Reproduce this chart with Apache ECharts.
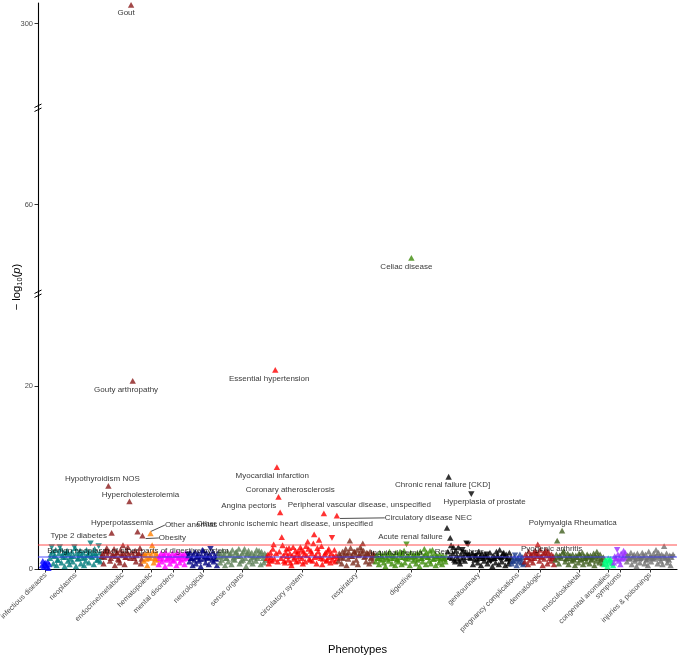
<!DOCTYPE html>
<html><head><meta charset="utf-8">
<script src="https://cdn.jsdelivr.net/npm/echarts@6/dist/echarts.min.js"></script>
<style>html,body{margin:0;padding:0;background:#fff}#c{width:685px;height:662px}</style>
</head><body><div id="c"></div>
<script>
// ---------- DATA ----------
const categories = ['infectious diseases','neoplasms','endocrine/metabolic','hematopoietic','mental disorders','neurological','sense organs','circulatory system','respiratory','digestive','genitourinary','pregnancy complications','dermatologic','musculoskeletal','congenital anomalies','symptoms','injuries & poisonings'];

// -log10(p) per phenotype in phecode order; negative sign = effect downward (drawn as down triangle)
const infectiousP = [0.4,0.9,0.2,0.6,0.7,0.4,0.3,0.8,0.1,0.5];
const neoplasmsP = [1.2,1.6,-2.4,1.9,0.6,1.4,1.5,2.1,0.4,1.0,1.0,1.7,-2.4,2.2,0.7,1.5,1.3,1.8,0.3,1.3,1.8,2.0,0.9,1.6,0.5,1.1,1.4,1.9,0.8,1.4,-2.4,2.3,0.3,1.7,1.1,1.2,1.6,2.0,0.6,1.5,1.2,1.8,0.4,1.3,0.9,2.1,1.5,1.6,0.7,1.9,-2.8,1.4,1.3,1.7,0.5,2.2,1.7,1.5,1.0,1.0,-2.5,1.8,0.8,1.3];
const endocrineP = [1.4,1.7,0.6,1.3,1.9,2.0,2.3,1.5,9.1,1.9,0.9,1.2,3.95,1.6,1.5,2.2,0.4,1.4,1.8,1.8,1.1,1.0,0.7,2.1,1.6,1.5,2.6,1.7,0.5,1.3,1.3,1.9,2.4,1.6,7.4,1.2,302,1.8,20.6,1.4,1.2,2.0,0.8,1.5,4.1,1.7,1.7,2.3,0.6,1.1,3.65,1.6];
const hematoP = [0.9,1.6,1.5,1.1,0.4,1.8,1.2,1.3,3.9,1.5,2.6,1.9,0.7,1.2,1.1,1.7,1.4,1.0];
const mentalP = [0.5,1.4,1.2,1.7,0.8,1.1,1.6,1.5,0.3,1.8,1.0,1.2,1.4,1.6,0.6,1.3,1.1,1.7,0.9,1.0,1.5,1.5,0.4,1.8,1.3,1.2,0.7,1.6,1.0,1.4,1.6,1.1,0.5,1.7,1.2,1.3];
const neuroP = [-1.6,1.5,0.8,1.8,1.2,1.2,0.4,1.6,1.0,1.9,0.6,1.3,1.4,1.7,0.9,1.1,0.3,1.5,2.1,2.0,1.1,1.4,0.7,1.8,1.3,1.2,0.5,1.6,-2.2,1.3,1.0,1.9,0.8,1.5,1.2,1.1,0.4,1.7];
const senseP = [1.3,1.8,0.7,1.4,1.0,2.0,1.5,1.6,0.4,1.2,1.2,1.9,0.8,1.5,1.6,1.7,0.5,2.1,1.1,1.3,1.0,1.8,1.9,1.5,1.4,2.2,0.6,1.4,0.9,1.7,1.0,1.9,2.2,1.2,0.3,1.6,1.7,2.0,0.8,1.5,1.1,1.8,0.6,1.3,1.4,1.7,0.9,2.1,1.2,1.4,2.0,1.6,0.5,1.9,1.5,1.2,0.7,1.7,1.0,1.5];
const circP = [1.2,1.6,0.6,1.0,1.8,1.3,0.9,2.2,2.7,1.1,21.8,1.7,11.15,0.8,7.9,1.9,6.2,1.2,3.5,2.6,1.5,0.9,0.7,1.8,2.2,1.4,1.0,2.3,1.7,0.7,0.4,1.5,2.4,1.1,1.3,2.0,0.8,1.6,1.9,0.9,1.4,2.4,2.1,1.2,0.6,1.9,1.6,0.8,2.5,1.5,3.0,2.2,1.1,1.0,2.0,1.7,0.9,2.8,3.8,1.3,1.5,0.6,2.3,1.9,3.2,1.4,1.2,2.5,0.5,1.1,6.1,1.6,1.8,0.9,1.0,2.0,2.2,1.3,0.7,1.7,-3.4,1.0,1.4,2.1,0.8,1.5,5.85,1.2];
const respP = [0.9,1.7,1.5,1.3,0.6,1.9,1.2,1.5,1.8,2.2,0.4,1.6,1.1,1.8,3.1,2.3,1.4,1.4,0.7,1.9,1.9,1.6,1.0,2.1,0.5,1.5,1.6,2.4,2.1,1.7,2.8,2.0,1.3,1.4,0.8,1.8,1.7,1.6,0.6,1.9,1.2,1.3,0.9,1.7,1.5,1.5];
const digestP = [0.8,1.5,1.2,1.2,0.5,1.8,1.0,1.4,1.4,1.1,0.7,1.7,0.3,1.3,1.1,1.6,0.9,1.9,1.5,1.2,0.6,1.5,1.2,1.4,0.4,1.8,1.0,1.1,0.8,1.6,1.9,1.3,0.5,1.7,1.3,2.0,0.7,1.2,-2.7,1.5,1.1,1.4,0.4,1.8,54.1,1.3,0.9,1.6,1.4,1.1,0.6,1.7,1.0,1.5,0.3,1.9,1.2,1.2,0.8,1.4,2.2,1.6,0.5,1.8,1.3,1.3,0.9,2.0,0.6,1.5,2.1,1.1,1.1,1.7,0.4,1.4,1.4,1.2,0.7,1.6,1.0,1.3,0.5,1.5,1.2,1.1,0.8,1.4];
const genitoP = [4.5,1.9,10.1,1.3,3.4,2.6,1.2,1.7,2.4,1.0,0.8,2.0,1.5,1.2,2.4,0.9,0.6,1.6,1.1,-2.1,-1.8,1.3,0.9,1.7,-2.8,-1.5,-2.7,1.6,1.3,1.2,-8.2,1.8,0.5,-1.3,1.0,1.5,-1.4,1.1,0.7,1.9,1.2,1.4,0.4,1.7,-1.1,1.2,0.9,1.6,1.4,-1.6,0.6,1.3,1.0,1.8,-0.8,1.1,0.3,1.5,1.2,1.2,0.7,1.9,1.5,1.4,0.5,2.1,-1.0,1.3,0.8,1.7,1.8,1.4,0.4,1.6,1.1,1.2,0.6,1.8,0.9,1.3];
const pregP = [0.6,0.9,0.9,1.3,-1.5,1.0,0.4,1.2,1.2,0.8,1.6,1.1,0.7,1.3,0.5,0.7];
const dermP = [0.8,1.6,1.3,1.3,0.5,1.9,1.0,1.5,1.6,1.2,0.7,1.8,1.2,2.0,1.7,1.4,2.7,1.6,0.9,2.1,1.4,1.3,0.4,1.7,1.1,1.8,2.1,1.5,0.6,1.9,1.5,1.2,0.9,1.6,1.2,1.4,0.5,1.1];
const muscP = [1.0,1.6,3.1,1.3,0.6,1.5,1.4,1.2,4.2,1.8,2.0,1.5,0.8,1.1,1.2,1.7,0.5,1.4,1.5,1.2,0.9,1.6,1.1,1.0,0.4,1.5,1.3,1.3,0.7,1.7,1.6,1.1,1.0,1.8,0.5,1.4,1.2,1.2,0.8,1.6,1.4,1.3,0.6,1.5,1.0,1.1,1.3,1.7,0.4,1.4,0.9,1.9,1.5,1.2,0.7,1.6,1.1,1.0,0.6,1.3];
const congenP = [0.5,0.9,1.0,0.6,0.3,1.2,0.8,1.0,1.1,0.7,0.6,0.4];
const sympP = [0.7,1.4,1.2,1.1,-2.1,1.6,0.9,1.2,0.5,1.7,1.1,1.3,2.0,1.5,1.8,1.2];
const injP = [0.8,1.5,-1.3,1.2,1.1,1.8,0.5,1.3,1.4,1.6,0.9,1.1,0.3,1.7,1.2,1.4,0.7,1.2,-1.0,1.8,1.5,1.3,0.6,1.6,1.0,1.1,0.4,1.9,1.3,1.4,0.8,1.2,-1.2,1.7,1.1,1.3,2.1,1.5,0.6,1.8,1.4,1.2,0.9,1.6,0.5,1.4,2.5,1.3,1.2,1.7,0.7,1.1,1.0,1.5,0.4,1.3,-1.3,1.6];
const categoryValues = [infectiousP,neoplasmsP,endocrineP,hematoP,mentalP,neuroP,senseP,circP,respP,digestP,genitoP,pregP,dermP,muscP,congenP,sympP,injP];

// [label, category index, position within category]
const annotations = [
  ['Gout',2,36],['Gouty arthropathy',2,38],['Hypothyroidism NOS',2,8],['Hypercholesterolemia',2,34],
  ['Type 2 diabetes',2,12],['Hyperpotassemia',2,44],['Obesity',2,50],['Other anemias',3,8],
  ['Benign neoplasm of other parts of digestive system',1,50],
  ['Essential hypertension',7,10],['Myocardial infarction',7,12],['Coronary atherosclerosis',7,14],
  ['Angina pectoris',7,16],['Other chronic ischemic heart disease, unspecified',7,18],
  ['Peripheral vascular disease, unspecified',7,70],['Circulatory disease NEC',7,86],
  ['Celiac disease',9,44],['Inguinal hernia',9,38],['Chronic renal failure [CKD]',10,2],
  ['Acute renal failure',10,0],['Renal dialysis',10,14],['Hyperplasia of prostate',10,30],
  ['Polymyalgia Rheumatica',13,8],['Pyogenic arthritis',13,2]
];
const significanceLines = [2.63, 1.3];
const yTicksBottom = [0,20], yTicksMiddle = [60], yTicksTop = [300];
const segBottom = [0,30], segMiddle = [50,70.7], segTop = [291,302.2];

// ---------- STYLE ----------
const catColors = ['#0000FF','#007A7A','#8B1A1A','#FF7F00','#FF00FF','#000080','#5E8057','#FF0000','#7B2D1E','#3D8B0A','#000000','#1F3D8A','#A31414','#405E1E','#00FF80','#9B30FF','#707070'];
const labelOffsets = {
  'Gout':[-5,8],'Gouty arthropathy':[-6.6,8.5],'Hypothyroidism NOS':[-6,-7],'Hypercholesterolemia':[11,-7],
  'Type 2 diabetes':[-33,3],'Hyperpotassemia':[-15.5,-8.4],'Obesity':[30,2.3],'Other anemias':[40.6,-8.3],
  'Benign neoplasm of other parts of digestive system':[47.4,7],
  'Essential hypertension':[-6,8.7],'Myocardial infarction':[-4.6,8.7],'Coronary atherosclerosis':[11.7,-7],
  'Angina pectoris':[-31.4,-6.6],'Other chronic ischemic heart disease, unspecified':[3,-13],
  'Peripheral vascular disease, unspecified':[35.5,-8],'Circulatory disease NEC':[91.5,2.3],
  'Celiac disease':[-5,9],'Inguinal hernia':[-10,8],'Chronic renal failure [CKD]':[-6,8.3],
  'Acute renal failure':[-36.5,8.7],'Renal dialysis':[1,5],'Hyperplasia of prostate':[13.3,7.3],
  'Polymyalgia Rheumatica':[10.7,-7.4],'Pyogenic arthritis':[-5.5,8]
};
const withLine = ['Obesity','Other anemias','Circulatory disease NEC'];
const FONT = '"Liberation Sans", Arial, Helvetica, sans-serif';
const G = {left:38, width:639};
const gridTop = {top:3, height:105}, gridMid = {top:108, height:187}, gridBot = {top:295, height:274};
const X_PAD = 4.9;

// ---------- BUILD ----------
const annMap = {};
annotations.forEach(a => { annMap[a[1]+'_'+a[2]] = a[0]; });
let g = 0; const centers = [];
const seriesData = [[],[],[]]; // top, middle, bottom
const labelInfo = [{},{},{}];
categoryValues.forEach((arr, ci) => {
  const start = g;
  arr.forEach((v, li) => {
    const y = Math.abs(v);
    const k = y > segMiddle[1] ? 0 : (y > segBottom[1] ? 1 : 2);
    const item = {value:[g, y], symbolRotate: v < 0 ? 180 : 0, itemStyle:{color:catColors[ci]}};
    const name = annMap[ci+'_'+li];
    if (name) {
      item.name = name;
      item.label = {show:true, formatter:name};
      if (withLine.includes(name)) item.labelLine = {show:true, lineStyle:{color:'#000', width:0.7}};
      labelInfo[k][seriesData[k].length] = labelOffsets[name];
    }
    seriesData[k].push(item);
    g++;
  });
  centers.push((start + g - 1) / 2);
});
const total = g;
const xMin = -X_PAD, xMax = total - 1 + X_PAD;

function mkSeries(k) {
  return {
    type:'scatter', xAxisIndex:k, yAxisIndex:k, data:seriesData[k],
    symbol:'triangle', symbolSize:[6.4,5.8], clip:false, animation:false,
    label:{show:false, position:'inside', color:'#000', fontSize:8, fontFamily:FONT, textBorderWidth:0},
    labelLine:{show:false},
    labelLayout: function(p) {
      const off = labelInfo[k][p.dataIndex];
      if (!off) return {};
      return {x: p.rect.x + p.rect.width/2 + off[0], y: p.rect.y + p.rect.height/2 + off[1], align:'center', verticalAlign:'middle'};
    },
    emphasis:{disabled:true}
  };
}
const series = [mkSeries(0), mkSeries(1), mkSeries(2)];
series[2].markLine = {
  silent:true, symbol:'none', animation:false, label:{show:false},
  data:[
    {yAxis:significanceLines[0], lineStyle:{color:'rgba(255,60,60,0.45)', width:2, type:'solid'}},
    {yAxis:significanceLines[1], lineStyle:{color:'rgba(60,60,255,0.45)', width:2, type:'solid'}}
  ]
};

function yAx(idx, seg, ticks) {
  return {
    type:'value', gridIndex:idx, min:seg[0], max:seg[1], splitLine:{show:false},
    axisLine:{show:true, onZero:false, lineStyle:{color:'#000', width:1.1}},
    axisTick:{show:true, length:3.5, customValues:ticks, lineStyle:{color:'#333'}},
    axisLabel:{show:true, customValues:ticks, color:'#4D4D4D', fontSize:7.5, fontFamily:FONT, margin:5}
  };
}
function xAx(idx, shown) {
  const ax = {type:'value', gridIndex:idx, min:xMin, max:xMax, splitLine:{show:false}};
  if (!shown) { ax.show = false; return ax; }
  ax.axisLine = {show:true, onZero:false, lineStyle:{color:'#000', width:1.1}};
  ax.axisTick = {show:true, length:3.5, customValues:centers, lineStyle:{color:'#333'}};
  ax.axisLabel = {show:true, customValues:centers, rotate:45, margin:5, color:'#4D4D4D', fontSize:7.3, fontFamily:FONT,
    formatter: v => { let best=0; centers.forEach((c,i)=>{ if (Math.abs(c-v) < Math.abs(centers[best]-v)) best=i; }); return categories[best]; }};
  return ax;
}

function breakMark(y) {
  const x = G.left;
  return {type:'group', z:100, children:[
    {type:'rect', shape:{x:x-1.5, y:y-1.5, width:3, height:3}, style:{fill:'#fff'}},
    {type:'line', shape:{x1:x-3.5, y1:y-0.5, x2:x+3.5, y2:y-4}, style:{stroke:'#000', lineWidth:1}},
    {type:'line', shape:{x1:x-3.5, y1:y+3.5, x2:x+3.5, y2:y}, style:{stroke:'#000', lineWidth:1}}
  ]};
}
function mkGrid(t) {
  return {left:G.left, width:G.width, top:t.top, height:t.height, containLabel:false, outerBoundsMode:'none'};
}

const chart = echarts.init(document.getElementById('c'), null, {renderer:'canvas'});
chart.setOption({
  backgroundColor:'#fff',
  animation:false,
  grid:[mkGrid(gridTop), mkGrid(gridMid), mkGrid(gridBot)],
  xAxis:[xAx(0,false), xAx(1,false), xAx(2,true)],
  yAxis:[yAx(0,segTop,yTicksTop), yAx(1,segMiddle,yTicksMiddle), yAx(2,segBottom,yTicksBottom)],
  series:series,
  graphic:[
    breakMark(gridMid.top),
    breakMark(gridBot.top - 1),
    {type:'text', x:357.5, y:650, style:{text:'Phenotypes', font:'11.2px '+FONT, fill:'#000', textAlign:'center', textVerticalAlign:'middle'}},
    {type:'text', x:15, y:287, rotation:Math.PI/2,
      style:{text:'{n|− log}{s|10}{n|(}{i|p}{n|)}', textAlign:'center', textVerticalAlign:'middle', fill:'#000',
        rich:{n:{fontSize:11.2, fontFamily:FONT, lineHeight:14, verticalAlign:'bottom'},
              s:{fontSize:7.5, fontFamily:FONT, lineHeight:14, verticalAlign:'bottom', padding:[0,0,-2,0]},
              i:{fontSize:11.2, fontFamily:FONT, fontStyle:'italic', lineHeight:14, verticalAlign:'bottom'}}}}
  ]
});
</script>
</body></html>
